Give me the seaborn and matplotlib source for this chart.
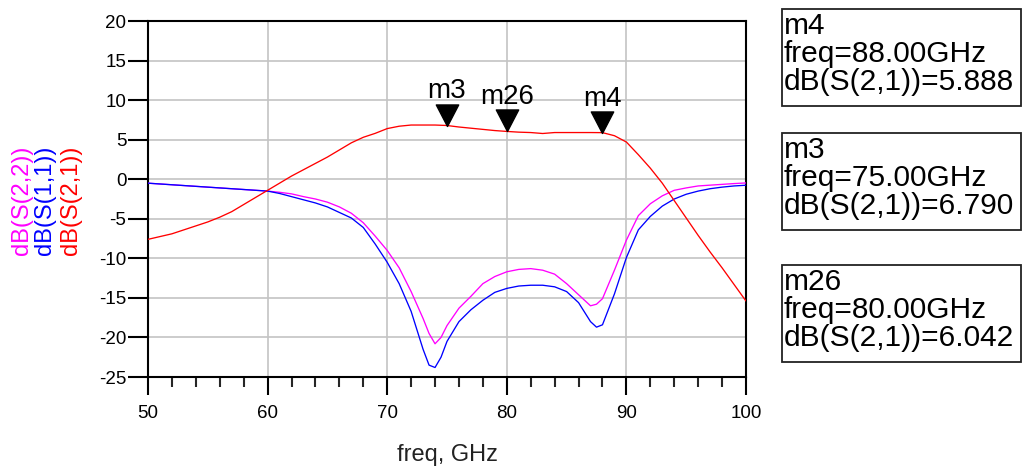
import matplotlib
matplotlib.use("Agg")
import numpy as np
import pandas as pd
import matplotlib.pyplot as plt
import seaborn as sns
from matplotlib.ticker import MultipleLocator, FixedLocator
from matplotlib.patches import Rectangle
from matplotlib.path import Path
from matplotlib.markers import MarkerStyle

# ---------------- data ----------------
freq_s21 = [50, 51, 52, 53, 54, 55, 56, 57, 58, 59, 60, 61, 62, 63, 64, 65, 66, 67, 68, 69,
            70, 71, 72, 73, 74, 75, 76, 77, 78, 79, 80, 81, 82, 83, 84, 85, 86, 87, 88, 89,
            90, 91, 92, 93, 94, 95, 96, 97, 98, 99, 100]
s21_db = [-7.6, -7.25, -6.9, -6.4, -5.9, -5.4, -4.8, -4.1, -3.2, -2.3, -1.4, -0.5, 0.4, 1.2,
          2.0, 2.8, 3.7, 4.6, 5.3, 5.8, 6.4, 6.7, 6.85, 6.85, 6.85, 6.79, 6.6, 6.45, 6.3,
          6.15, 6.042, 5.95, 5.9, 5.78, 5.9, 5.9, 5.9, 5.9, 5.888, 5.5, 4.7, 3.1, 1.4, -0.5,
          -2.7, -4.9, -7.1, -9.2, -11.2, -13.3, -15.4]

freq_s11 = [50, 51, 52, 53, 54, 55, 56, 57, 58, 59, 60, 61, 62, 63, 64, 65, 66, 67, 68, 69,
            70, 71, 72, 73, 73.5, 74, 74.5, 75, 76, 77, 78, 79, 80, 81, 82, 83, 84, 85, 86,
            87, 87.5, 88, 89, 90, 91, 92, 93, 94, 95, 96, 97, 98, 99, 100]
s11_db = [-0.5, -0.6, -0.7, -0.8, -0.9, -1.0, -1.1, -1.2, -1.3, -1.4, -1.5, -1.8, -2.2, -2.6,
          -3.0, -3.5, -4.2, -4.9, -6.1, -8.2, -10.5, -13.2, -16.7, -21.5, -23.5, -23.8,
          -22.5, -20.5, -18.0, -16.5, -15.3, -14.3, -13.8, -13.5, -13.4, -13.4, -13.6,
          -14.2, -15.6, -18.0, -18.7, -18.4, -14.5, -9.9, -6.4, -4.7, -3.4, -2.5, -1.9,
          -1.5, -1.2, -1.0, -0.85, -0.76]

freq_s22 = [50, 51, 52, 53, 54, 55, 56, 57, 58, 59, 60, 61, 62, 63, 64, 65, 66, 67, 68, 69,
            70, 71, 72, 73, 73.5, 74, 74.5, 75, 76, 77, 78, 79, 80, 81, 82, 83, 84, 85, 86,
            87, 87.5, 88, 89, 90, 91, 92, 93, 94, 95, 96, 97, 98, 99, 100]
s22_db = [-0.5, -0.6, -0.7, -0.8, -0.9, -1.0, -1.1, -1.2, -1.3, -1.4, -1.5, -1.65, -1.85,
          -2.2, -2.5, -2.9, -3.5, -4.3, -5.5, -7.2, -9.0, -11.2, -14.2, -17.6, -19.5, -20.8,
          -20.0, -18.5, -16.3, -14.8, -13.2, -12.3, -11.7, -11.4, -11.3, -11.5, -12.0,
          -13.2, -14.6, -16.0, -15.8, -15.1, -11.5, -7.7, -4.6, -3.1, -2.1, -1.4, -1.1,
          -0.85, -0.75, -0.65, -0.55, -0.47]

trace_names = ["dB(S(2,2))", "dB(S(1,1))", "dB(S(2,1))"]
trace_colors = ["#ff00ff", "#0000ff", "#ff0000"]

marker_names = ["m3", "m26", "m4"]
marker_freq = [75.0, 80.0, 88.0]
marker_db = [6.790, 6.042, 5.888]
marker_trace = "dB(S(2,1))"

x_ticks = [50, 60, 70, 80, 90, 100]
y_ticks = [-25, -20, -15, -10, -5, 0, 5, 10, 15, 20]
x_label = "freq, GHz"

# ---------------- style ----------------
sns.set_style("white")
plt.rcParams["font.family"] = ["Liberation Sans", "DejaVu Sans"]

W, H = 1022, 468
fig = plt.figure(figsize=(W / 100, H / 100), dpi=100)


def fx(px):
    return px / W


def fy(py):
    return 1 - py / H


ax_l, ax_r, ax_t, ax_b = 148, 746, 21, 377
ax = fig.add_axes([fx(ax_l), fy(ax_b), (ax_r - ax_l) / W, (ax_b - ax_t) / H])

df = pd.concat([
    pd.DataFrame({"freq": freq_s22, "dB": s22_db, "trace": trace_names[0]}),
    pd.DataFrame({"freq": freq_s11, "dB": s11_db, "trace": trace_names[1]}),
    pd.DataFrame({"freq": freq_s21, "dB": s21_db, "trace": trace_names[2]}),
], ignore_index=True)

sns.lineplot(data=df, x="freq", y="dB", hue="trace", hue_order=trace_names,
             palette=dict(zip(trace_names, trace_colors)), legend=False,
             linewidth=0.95, ax=ax, zorder=3)

# marker triangles with their tip sitting on the trace value
tri = MarkerStyle(Path([(-0.52, 1.0), (0.52, 1.0), (0.0, 0.0), (-0.52, 1.0)],
                       [Path.MOVETO, Path.LINETO, Path.LINETO, Path.CLOSEPOLY]))
ax.plot(marker_freq, marker_db, linestyle="none", marker=tri, markersize=31,
        color="black", zorder=5, clip_on=False)
for name, f, v in zip(marker_names, marker_freq, marker_db):
    ax.annotate(name, xy=(f, v), xytext=(0, 19.5), textcoords="offset points",
                ha="center", va="baseline", fontsize=20, color="black", zorder=6)

# axes, grid, ticks
ax.set_xlim(50, 100)
ax.set_ylim(-25, 20)
ax.xaxis.set_major_locator(FixedLocator(x_ticks))
ax.yaxis.set_major_locator(FixedLocator(y_ticks))
ax.xaxis.set_minor_locator(MultipleLocator(2))
ax.set_xticklabels([str(t) for t in x_ticks])
ax.set_yticklabels([str(t) for t in y_ticks])
ax.grid(True, which="major", color="#c4c4c4", linewidth=1.2, zorder=0)
ax.set_axisbelow(True)
for sp in ax.spines.values():
    sp.set_visible(True)
    sp.set_color("black")
    sp.set_linewidth(1.5)
ax.tick_params(axis="x", which="major", direction="out", length=13, width=1.5,
               pad=7, labelsize=13.5, colors="black", bottom=True)
ax.tick_params(axis="x", which="minor", direction="out", length=7, width=1.5,
               bottom=True)
ax.tick_params(axis="y", which="major", direction="out", length=14.5, width=1.5,
               pad=1, labelsize=13.5, colors="black", left=True)
ax.set_xlabel("")
ax.set_ylabel("")

fig.text(fx(447), fy(455), x_label, ha="center", va="center", fontsize=17,
         color="#222222")

# stacked, color-coded y labels
for name, color, cx in zip(trace_names, trace_colors, [22.5, 45, 71]):
    fig.text(fx(cx), fy(200), name, rotation=90, ha="center", va="center",
             fontsize=17, color=color)

# marker readout boxes
box_order = ["m4", "m3", "m26"]
box_tops = [9, 133, 265]
for name, top in zip(box_order, box_tops):
    i = marker_names.index(name)
    fig.patches.append(Rectangle((fx(782), fy(top + 97)), 239 / W, 97 / H,
                                 transform=fig.transFigure, facecolor="white",
                                 edgecolor="#222222", linewidth=1.3))
    lines = [name, f"freq={marker_freq[i]:.2f}GHz",
             f"{marker_trace}={marker_db[i]:.3f}"]
    for k, line in enumerate(lines):
        fig.text(fx(784), fy(top + 24.5 + 28.3 * k), line, ha="left", va="baseline",
                 fontsize=21.5, color="black")

fig.savefig("out.png", dpi=100)
